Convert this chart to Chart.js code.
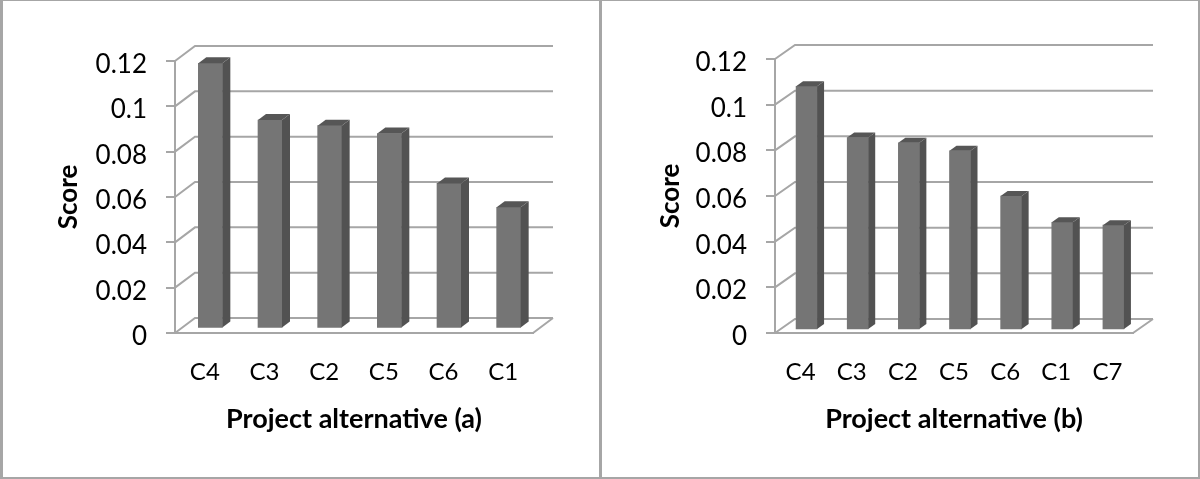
<!DOCTYPE html>
<html>
<head>
<meta charset="utf-8">
<style>
html,body{margin:0;padding:0;background:#fff;overflow:hidden}
#page{position:relative;width:1200px;height:479px}
.panel{position:absolute;top:0;height:479px;box-sizing:border-box;border:solid #a6a6a6;border-width:1px 0 2px 0}
canvas{position:absolute;top:0;left:0}
</style>
<script src="https://cdn.jsdelivr.net/npm/chart.js@4"></script>
</head>
<body>
<div id="page">
<div class="panel" style="left:0;width:599px;border-left-width:3px"></div>
<div class="panel" style="left:599px;width:601px;border-left-width:3px;border-right-width:2px"></div>
<canvas id="chartA" width="600" height="479" style="left:0"></canvas>
<canvas id="chartB" width="600" height="479" style="left:600px"></canvas>
</div>
<script>
const labelsA = ["C4","C3","C2","C5","C6","C1"]
const valuesA = [0.117,0.092,0.0895,0.086,0.064,0.0535]

const labelsB = ["C4","C3","C2","C5","C6","C1","C7"]
const valuesB = [0.1067,0.0843,0.082,0.0785,0.0587,0.0472,0.0459]

const lineColor = "#a6a6a6"

// fake 3D: back wall and floor behind the bars, then side and top faces on each bar
const box3d = {
  id:"box3d",
  beforeDatasetsDraw(chart,args,opts){
    const {ctx,scales:{x,y}} = chart
    ctx.save()
    ctx.strokeStyle = lineColor
    ctx.lineWidth = 2
    ctx.beginPath()
    y.ticks.forEach(t=>{
      const py = y.getPixelForValue(t.value)
      ctx.moveTo(x.left,py)
      ctx.lineTo(x.left+opts.wallX,py-opts.wallY)
      ctx.lineTo(x.right+opts.wallX,py-opts.wallY)
    })
    ctx.moveTo(x.right,y.bottom)
    ctx.lineTo(x.right+opts.wallX,y.bottom-opts.wallY)
    ctx.stroke()
    ctx.restore()
    ctx.save()
    ctx.translate(opts.barX,opts.barY)
  },
  afterDatasetsDraw(chart,args,opts){
    const {ctx} = chart
    const dx = opts.sideX, dy = opts.sideY
    chart.getDatasetMeta(0).data.forEach(bar=>{
      const p = bar.getProps(["x","y","base","width"],true)
      const l = p.x-p.width/2, r = p.x+p.width/2
      ctx.fillStyle = "#525252"
      ctx.beginPath()
      ctx.moveTo(r,p.y)
      ctx.lineTo(r+dx,p.y-dy)
      ctx.lineTo(r+dx,p.base-dy)
      ctx.lineTo(r,p.base)
      ctx.closePath()
      ctx.fill()
      ctx.fillStyle = "#565656"
      ctx.beginPath()
      ctx.moveTo(l,p.y)
      ctx.lineTo(l+dx,p.y-dy)
      ctx.lineTo(r+dx,p.y-dy)
      ctx.lineTo(r,p.y)
      ctx.closePath()
      ctx.fill()
    })
    ctx.restore()
  }
}

function makeChart(id,labels,values,xTitle,o){
  return new Chart(document.getElementById(id),{
    type:"bar",
    data:{
      labels:labels,
      datasets:[{data:values,backgroundColor:"#757575",borderWidth:0,barThickness:o.barWidth}]
    },
    plugins:[box3d],
    options:{
      responsive:false,
      animation:false,
      layout:{padding:{top:o.top,right:67,left:o.titleLeft,bottom:44}},
      plugins:{
        legend:{display:false},
        tooltip:{enabled:false},
        box3d:{wallX:20,wallY:o.wallY,barX:o.barX,barY:o.barY,sideX:o.sideX,sideY:o.sideY}
      },
      scales:{
        x:{
          afterFit:s=>{s.height=102},
          grid:{drawOnChartArea:false,drawTicks:false},
          border:{color:lineColor,width:2},
          ticks:{color:"#000",font:{family:"Lato",size:24},padding:25,maxRotation:0},
          title:{display:true,text:xTitle,color:"#000",font:{family:"Lato",size:27,weight:"bold"},padding:0}
        },
        y:{
          min:0,
          max:0.12,
          afterFit:s=>{s.width=175-o.titleLeft},
          grid:{drawOnChartArea:false,drawTicks:true,tickLength:9,color:lineColor,lineWidth:2},
          border:{color:lineColor,width:2},
          // blank first line pushes the label a few px under its tick, as in the picture
          ticks:{color:"#000",font:{family:"Lato",size:26,lineHeight:"7px"},padding:19,stepSize:0.02,callback:v=>["",String(+v.toFixed(2))]},
          title:{display:true,text:"Score",color:"#000",font:{family:"Lato",size:26,weight:"bold"},padding:0}
        }
      }
    }
  })
}

makeChart("chartA",labelsA,valuesA,"Project alternative (a)",
  {top:61,titleLeft:53,barWidth:24,barX:5.5,barY:-4.5,sideX:8,sideY:6,wallY:15})
makeChart("chartB",labelsB,valuesB,"Project alternative (b)",
  {top:59,titleLeft:55,barWidth:21,barX:6,barY:-3,sideX:7,sideY:5,wallY:14})
</script>
</body>
</html>
